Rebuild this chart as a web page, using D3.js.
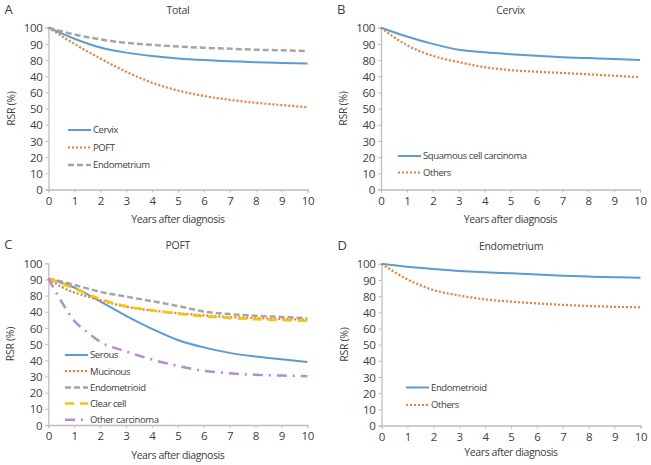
<!DOCTYPE html>
<html><head><meta charset="utf-8">
<script src="https://cdn.jsdelivr.net/npm/d3@7"></script>
<style>
body{margin:0;background:#fff;}
svg text{font-family:"Open Sans","Noto Sans",sans-serif;fill:#404040;}
</style></head>
<body><svg id="c" width="651" height="465"></svg>
<script>
// ---- data ----
const years = [0,1,2,3,4,5,6,7,8,9,10];
const yTickValues = [0,10,20,30,40,50,60,70,80,90,100];
const yTickLabels = ["0","10","20","30","40","50","60","40","80","90","100"];
const xTickLabels = ["0","1","2","3","4","5","6","7","8","9","10"];

// Panel A: Total
const totalCervix      = [100,93.2,87.8,84.6,82.5,81,80,79.3,78.6,78.2,77.8];
const totalPOFT        = [100,90,81,72.8,66,61.2,57.8,55.4,53.6,52.2,50.8];
const totalEndometrium = [100,95.8,92.8,90.6,89.4,88.4,87.6,87,86.4,86,85.6];
// Panel B: Cervix
const cervixSCC    = [100,94.6,90,86.4,84.8,83.6,82.6,81.8,81.2,80.6,80.1];
const cervixOthers = [100,89.2,82.6,78.7,75.6,73.8,72.8,72,71.2,70.3,69.4];
// Panel C: POFT
const poftYears = [0,0.5,1,1.5,2,3,4,5,6,7,8,9,10];
const poftSerous        = [90.5,88,85,81,76.5,67.5,59.5,52.6,48,44.6,42.4,40.6,39];
const poftMucinous      = [90.5,85.5,82,79.5,77.2,73.2,70.8,69.2,67.8,66.8,66.2,65.6,65];
const poftEndometrioid  = [90.5,88.8,86.6,84.5,82.4,79.4,76.6,73.6,70.2,68.6,67.6,66.8,66];
const poftClearCell     = [90.5,87.5,84.5,81,78,73.4,71,68.8,67.2,66.2,65.4,64.9,64.4];
const poftOther         = [90.5,76.5,64.5,57.5,51.5,45.5,40.5,36.5,33.5,32,31,30.6,30.2];
// Panel D: Endometrium
const endoEndometrioid = [100,98.2,96.8,95.6,94.7,94.1,93.4,92.6,92.1,91.7,91.4];
const endoOthers       = [100,90.4,83.8,80.4,78,76.6,75.5,74.6,73.9,73.4,73.1];

const COL = {blue:"#5b9bd5", orange:"#ed7d31", gray:"#a5a5a5", yellow:"#ffc000", purple:"#b58ad6"};
const STY = {
  solid:{dash:null,w:2},
  dot:{dash:"2,2",w:2.2},
  dash:{dash:"6,3",w:2.5},
  longdash:{dash:"9,6",w:2.5},
  dashdot:{dash:"10,6,2,6",w:2.5}
};

const panels = [
  {letter:"A", title:"Total", x0:48.5, x1:307.5, y0:189.5, y1:27.7, xlabY:223, leg:{x:68,y:130,dy:17.5},
   series:[
    {name:"Cervix", xs:years, ys:totalCervix, c:COL.blue, s:"solid"},
    {name:"POFT", xs:years, ys:totalPOFT, c:COL.orange, s:"dot"},
    {name:"Endometrium", xs:years, ys:totalEndometrium, c:COL.gray, s:"dash"}]},
  {letter:"B", title:"Cervix", x0:381, x1:640, y0:189.5, y1:27.7, xlabY:223, leg:{x:398,y:156,dy:16.5},
   series:[
    {name:"Squamous cell carcinoma", xs:years, ys:cervixSCC, c:COL.blue, s:"solid"},
    {name:"Others", xs:years, ys:cervixOthers, c:COL.orange, s:"dot"}]},
  {letter:"C", title:"POFT", x0:48.3, x1:307.3, y0:425, y1:263.3, xlabY:459, leg:{x:65,y:355,dy:16.2},
   series:[
    {name:"Serous", xs:poftYears, ys:poftSerous, c:COL.blue, s:"solid"},
    {name:"Mucinous", xs:poftYears, ys:poftMucinous, c:COL.orange, s:"dot"},
    {name:"Endometrioid", xs:poftYears, ys:poftEndometrioid, c:COL.gray, s:"dash"},
    {name:"Clear cell", xs:poftYears, ys:poftClearCell, c:COL.yellow, s:"longdash"},
    {name:"Other carcinoma", xs:poftYears, ys:poftOther, c:COL.purple, s:"dashdot"}]},
  {letter:"D", title:"Endometrium", x0:381.5, x1:640.5, y0:425.5, y1:263.8, xlabY:455.5, leg:{x:406,y:387.5,dy:17.5},
   series:[
    {name:"Endometrioid", xs:years, ys:endoEndometrioid, c:COL.blue, s:"solid"},
    {name:"Others", xs:years, ys:endoOthers, c:COL.orange, s:"dot"}]}
];

const svg = d3.select("#c");
panels.forEach(p=>{
  const x = d3.scaleLinear().domain([0,10]).range([p.x0,p.x1]);
  const y = d3.scaleLinear().domain([0,100]).range([p.y0,p.y1]);
  const g = svg.append("g");
  const ya = g.append("g").attr("transform",`translate(${p.x0},0)`)
    .call(d3.axisLeft(y).tickValues(yTickValues).tickFormat((d,i)=>yTickLabels[i]).tickSize(3).tickPadding(3));
  const xa = g.append("g").attr("transform",`translate(0,${p.y0})`)
    .call(d3.axisBottom(x).tickValues(years).tickFormat((d,i)=>xTickLabels[i]).tickSize(3).tickPadding(3));
  [ya,xa].forEach(a=>{
    a.selectAll(".domain").attr("stroke","#bfbfbf").attr("stroke-width",1.3);
    a.selectAll(".tick line").attr("stroke","#bfbfbf");
    a.selectAll(".tick text").attr("font-size",11.5).attr("fill","#404040")
     .attr("font-family","'Open Sans','Noto Sans',sans-serif").attr("letter-spacing","-0.3px");
  });
  xa.selectAll(".tick text").attr("dy","0.8em");
  ya.selectAll(".tick text").attr("dy","0.36em");

  g.append("text").attr("x",p.x0-44).attr("y",p.y1-14).attr("font-size",13).text(p.letter);
  g.append("text").attr("x",(p.x0+p.x1)/2).attr("y",p.y1-14).attr("text-anchor","middle")
    .attr("font-size",10.5).attr("letter-spacing","-0.3px").text(p.title);
  g.append("text").attr("transform",`translate(${p.x0-34},${(p.y0+p.y1)/2}) rotate(-90)`)
    .attr("text-anchor","middle").attr("font-size",10.5).attr("letter-spacing","-0.3px").text("RSR (%)");
  g.append("text").attr("x",(p.x0+p.x1)/2).attr("y",p.xlabY).attr("text-anchor","middle")
    .attr("font-size",10.5).attr("letter-spacing","-0.4px").text("Years after diagnosis");

  const line = d3.line().curve(d3.curveMonotoneX).x(d=>x(d[0])).y(d=>y(d[1]));
  p.series.forEach((s,i)=>{
    const st = STY[s.s];
    const pts = s.xs.map((v,k)=>[v,s.ys[k]]);
    g.append("path").attr("d",line(pts)).attr("fill","none").attr("stroke",s.c)
      .attr("stroke-width",st.w).attr("stroke-dasharray",st.dash);
    const ly = p.leg.y + i*p.leg.dy;
    g.append("line").attr("x1",p.leg.x).attr("x2",p.leg.x+23).attr("y1",ly).attr("y2",ly)
      .attr("stroke",s.c).attr("stroke-width",st.w).attr("stroke-dasharray",st.dash);
    g.append("text").attr("x",p.leg.x+25).attr("y",ly).attr("dy","0.35em")
      .attr("font-size",9.5).attr("letter-spacing","-0.4px").text(s.name);
  });
});
</script></body></html>
